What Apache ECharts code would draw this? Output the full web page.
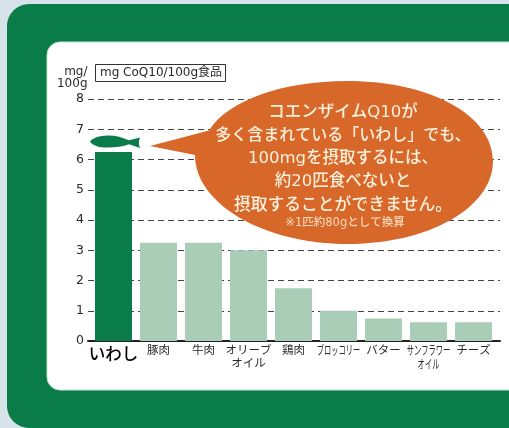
<!DOCTYPE html>
<html>
<head>
<meta charset="utf-8">
<style>html,body{margin:0;padding:0;background:#d6e4e9}#c{width:509px;height:428px}</style>
<script src="https://cdn.jsdelivr.net/npm/echarts@6/dist/echarts.min.js"></script>
</head>
<body>
<div id="c"></div>
<script>
// CoQ10 content per 100 g of food
const categories = ['いわし', '豚肉', '牛肉', 'オリーブ\nオイル', '鶏肉', 'ブロッコリー', 'バター', 'サンフラワー\nオイル', 'チーズ'];
const values = [6.25, 3.25, 3.25, 3.0, 1.74, 1.0, 0.74, 0.62, 0.62];
const narrowLabels = ['ブロッコリー', 'サンフラワー\nオイル'];
const unitLabel = 'mg/\n100g';
const legendLabel = 'mg CoQ10/100g食品';
const bubbleLines = ['コエンザイムQ10が', '多く含まれている「いわし」でも、', '100mgを摂取するには、', '約20匹食べないと', '摂取することができません。'];
const bubbleNote = '※1匹約80gとして換算';

const DARK = '#0a7c4a', PALE = '#a9cdb6', ORANGE = '#d8682a', CREAM = '#fdf0dc', INK = '#2a2a2a';
const FONT = '"Noto Sans CJK JP","Noto Sans",sans-serif';
const MIXED = '"DejaVu Sans","Noto Sans CJK JP",sans-serif';
const chart = echarts.init(document.getElementById('c'), null, {renderer: 'canvas'});

// Outline shapes for the sardine and the speech bubble
echarts.graphic.registerShape('sardine', echarts.graphic.extendPath('M90 141.5 C93 137.5 100 135.8 107 135.5 C114 135 122 137.2 129 140.2 L140 137.5 C138.5 141 138.5 145 140 148 L129 144.3 C122 147 112 148 104 147.5 C97 147.2 92 144.8 90 141.5 Z'));
echarts.graphic.registerShape('speechBubble', echarts.graphic.extendPath('M150 146 L209 130.5 C228 100 284 81 347 81 C432 81 493 116 493 161 C493 208 428 244 348 244 C264 244 195 204 195 155 Z'));

const decorBack = [
  {type: 'rect', silent: true, z: -10, shape: {x: 7, y: 4, width: 560, height: 424, r: 22}, style: {fill: DARK}},
  {type: 'rect', silent: true, z: -9, shape: {x: 47, y: 42, width: 520, height: 348, r: 13}, style: {fill: '#ffffff', stroke: '#bfe6cf', lineWidth: 1}}
];

const bubbleY = [113, 136, 159, 182, 206];
const bubbleSize = [16.5, 16, 16.5, 16.5, 16.8];
const decorFront = [
  {type: 'sardine', silent: true, z: 20, style: {fill: DARK}},
  {type: 'speechBubble', silent: true, z: 20, style: {fill: ORANGE}},
  ...bubbleLines.map((t, i) => ({type: 'text', silent: true, z: 21, x: 343, y: bubbleY[i], style: {text: t, fill: CREAM, font: '500 ' + bubbleSize[i] + 'px ' + MIXED, align: 'center', verticalAlign: 'middle'}})),
  {type: 'text', silent: true, z: 21, x: 345, y: 223, style: {text: bubbleNote, fill: '#f8d8b8', font: '500 11.5px ' + MIXED, align: 'center', verticalAlign: 'middle'}},
  {type: 'text', silent: true, z: 21, x: 87.5, y: 78, style: {text: unitLabel, fill: INK, font: '12px "DejaVu Sans",sans-serif', lineHeight: 12.5, align: 'right', verticalAlign: 'middle'}}
];

chart.setOption({
  animation: false,
  backgroundColor: '#d6e4e9',
  title: {
    text: legendLabel, left: 95, top: 64, padding: [3, 4, 3, 5],
    borderColor: '#333', borderWidth: 1,
    textStyle: {fontSize: 12, fontWeight: 'normal', color: INK, fontFamily: MIXED, lineHeight: 12}
  },
  grid: [
    {left: 91, top: 99, width: 405, height: 242},
    {left: 88, top: 99, width: 412, height: 242}
  ],
  xAxis: [
    {
      type: 'category', gridIndex: 0, data: categories,
      axisLine: {show: false}, axisTick: {show: false},
      axisLabel: {
        interval: 0, margin: 2, color: INK, fontSize: 11.5, lineHeight: 13, fontFamily: FONT, verticalAlign: 'top',
        formatter: v => v === categories[0] ? '{big|' + v + '}' : (narrowLabels.includes(v) ? '' : v),
        rich: {big: {fontSize: 16.5, fontWeight: 500, color: '#000', fontFamily: FONT, lineHeight: 21}}
      }
    },
    {
      type: 'category', gridIndex: 1, data: [''],
      axisLine: {lineStyle: {color: '#222', width: 2}}, axisTick: {show: false}, axisLabel: {show: false}
    }
  ],
  yAxis: [
    {type: 'value', gridIndex: 0, min: 0, max: 8, interval: 1, show: false},
    {
      type: 'value', gridIndex: 1, min: 0, max: 8, interval: 1,
      axisLine: {show: false}, axisTick: {show: false},
      axisLabel: {margin: 4, color: INK, fontSize: 12.5, fontFamily: '"DejaVu Sans",sans-serif'},
      splitLine: {lineStyle: {color: '#444', width: 1, type: [6, 4]}}
    }
  ],
  series: [{
    type: 'bar', xAxisIndex: 0, yAxisIndex: 0, z: 5, barWidth: 37,
    data: values.map((v, i) => ({value: v, itemStyle: {color: i === 0 ? DARK : PALE}}))
  }],
  graphic: decorBack.concat(decorFront)
});

// The two long katakana names are set condensed to fit their slots
const narrowText = narrowLabels.map(t => {
  const x = chart.convertToPixel({xAxisIndex: 0}, categories.indexOf(t));
  return {type: 'text', silent: true, z: 21, x: x, y: 343.5, scaleX: 0.58, style: {text: t, fill: INK, font: '12.5px ' + FONT, lineHeight: 14, align: 'center', verticalAlign: 'top'}};
});
chart.setOption({graphic: decorBack.concat(decorFront, narrowText)}, {replaceMerge: ['graphic']});
</script>
</body>
</html>
